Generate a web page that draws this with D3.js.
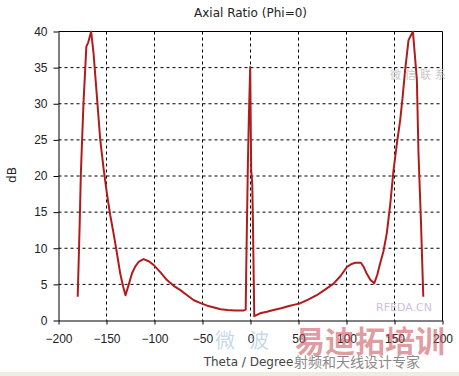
<!DOCTYPE html>
<html>
<head>
<meta charset="utf-8">
<script src="https://cdn.jsdelivr.net/npm/d3@7"></script>
<style>
  body { margin: 0; background: #fff; }
  svg { display: block; font-family: 'DejaVu Sans', sans-serif; }
  .axis text { font-size: 12px; fill: #222; }
  .grid line { stroke: #000; stroke-dasharray: 3,3; }
</style>
</head>
<body>
<div id="chart"></div>
<script>
// theta in degrees, axial ratio in dB (peaks clipped at 40)
const theta = [-180, -178, -176.7, -174, -171, -169, -166, -163.5, -160, -156.5, -153, -149.6, -146, -142.7, -139, -135.7, -132.5, -130.2, -127, -123.5, -120, -116.6, -111.4, -106, -101, -94, -87, -80, -73, -66, -59, -52, -45, -38, -31, -24, -16, -7, -5, -4.5, -2.7, -1.7, -0.3, 0.7, 1.8, 2.5, 3.9, 10, 17, 24, 32, 40, 46, 52, 60, 69, 78, 86.5, 94, 100.4, 105, 109, 115, 118, 121, 125, 128.9, 132, 135, 138.5, 142, 145.5, 149, 152.5, 155.9, 158.5, 161.1, 164.6, 169.2, 173.3, 175, 177.5, 180]
const axialRatio = [3.3, 13, 20.4, 30, 37.9, 38.5, 40, 37, 31, 25, 21, 17.6, 14.5, 12.1, 9.2, 6.5, 4.6, 3.5, 4.9, 6.5, 7.5, 8.1, 8.5, 8.2, 7.7, 6.7, 5.6, 4.8, 4.2, 3.5, 2.8, 2.4, 2.05, 1.8, 1.55, 1.45, 1.4, 1.4, 1.5, 6.6, 21.8, 28.2, 35.1, 20.8, 19, 13.9, 0.6, 1.0, 1.2, 1.45, 1.7, 2.0, 2.2, 2.4, 2.9, 3.5, 4.3, 5.1, 6.2, 7.4, 7.8, 8.0, 8.0, 7.4, 6.5, 5.6, 5.15, 6.3, 7.9, 9.6, 12.1, 16, 20.8, 24.5, 27.7, 31, 34.7, 38.8, 40, 33.3, 23.1, 13.9, 3.3]
const xTicks = [-200, -150, -100, -50, 0, 50, 100, 150, 200]
const yTicks = [0, 5, 10, 15, 20, 25, 30, 35, 40]

const data = theta.map((t, i) => ({ t: t, v: axialRatio[i] }))

const w = 459
const h = 376
const margin = { top: 31.5, right: 16.5, bottom: 55.5, left: 58.5 }
const width = w - margin.left - margin.right
const height = h - margin.top - margin.bottom

const svg = d3.select('#chart').append('svg')
  .attr('width', w)
  .attr('height', h)

svg.append('rect').attr('x', 0).attr('y', 372).attr('width', w).attr('height', 4).attr('fill', '#f1ece0')

const g = svg.append('g').attr('transform', 'translate(' + margin.left + ',' + margin.top + ')')

const x = d3.scaleLinear().domain([-200, 200]).range([0, width])
const y = d3.scaleLinear().domain([0, 40]).range([height, 0])

// dashed grid
g.append('g').attr('class', 'grid')
  .selectAll('line.v')
  .data(xTicks.slice(1, -1))
  .enter().append('line')
  .attr('x1', d => x(d)).attr('x2', d => x(d))
  .attr('y1', 0).attr('y2', height)
g.append('g').attr('class', 'grid')
  .selectAll('line.h')
  .data(yTicks.slice(1, -1))
  .enter().append('line')
  .attr('x1', 0).attr('x2', width)
  .attr('y1', d => y(d)).attr('y2', d => y(d))

// frame top + right
g.append('path')
  .attr('d', 'M0,0H' + width + 'V' + height)
  .attr('fill', 'none')
  .attr('stroke', '#000')

g.append('g')
  .attr('class', 'axis axis--y')
  .call(d3.axisLeft(y).tickValues(yTicks).tickSize(5).tickSizeOuter(0).tickPadding(6))

g.append('g')
  .attr('class', 'axis axis--x')
  .attr('transform', 'translate(0,' + height + ')')
  .call(d3.axisBottom(x).tickValues(xTicks).tickSize(4).tickSizeOuter(0).tickPadding(10))

g.selectAll('.axis path, .axis line').attr('stroke', '#000')

g.append('defs').append('clipPath').attr('id', 'clip')
  .append('rect').attr('x', 0).attr('y', -1).attr('width', width).attr('height', height + 1)

const line = d3.line()
  .x(d => x(d.t))
  .y(d => y(d.v))

g.append('path')
  .datum(data)
  .attr('clip-path', 'url(#clip)')
  .attr('d', line)
  .attr('fill', 'none')
  .attr('stroke', '#b01c1c')
  .attr('stroke-width', 2)
  .attr('stroke-linejoin', 'round')

svg.append('text')
  .attr('x', margin.left + width / 2)
  .attr('y', 17)
  .attr('text-anchor', 'middle')
  .attr('font-size', 12)
  .attr('fill', '#222')
  .text('Axial Ratio (Phi=0)')

svg.append('text')
  .attr('transform', 'translate(16,175) rotate(-90)')
  .attr('text-anchor', 'middle')
  .attr('font-size', 12)
  .attr('fill', '#222')
  .text('dB')

svg.append('text')
  .attr('x', margin.left + width / 2 - 2)
  .attr('y', 366)
  .attr('text-anchor', 'middle')
  .attr('font-size', 12)
  .attr('fill', '#444')
  .text('Theta / Degree')

// watermarks
svg.append('text')
  .attr('x', 295).attr('y', 352)
  .attr('font-size', 30).attr('font-weight', 'bold')
  .attr('font-family', 'Noto Sans CJK SC')
  .attr('fill', 'rgba(200,70,80,0.55)')
  .text('易迪拓培训')
svg.append('text')
  .attr('x', 294).attr('y', 367)
  .attr('font-size', 14)
  .attr('font-family', 'Noto Sans CJK SC')
  .attr('fill', '#8a8a8a')
  .text('射频和天线设计专家')
svg.append('text')
  .attr('x', 376).attr('y', 311)
  .attr('font-size', 11)
  .attr('fill', 'rgba(200,170,210,0.8)')
  .text('RFEDA.CN')
svg.append('text')
  .attr('x', 390).attr('y', 79)
  .attr('font-size', 11)
  .attr('letter-spacing', 4)
  .attr('font-family', 'Noto Sans CJK SC')
  .attr('fill', '#c8c8c8')
  .text('微信联系')
svg.append('text')
  .attr('x', 215).attr('y', 348)
  .attr('font-size', 20)
  .attr('letter-spacing', 14)
  .attr('font-family', 'Noto Sans CJK SC')
  .attr('fill', 'rgba(120,170,210,0.45)')
  .text('微波')
</script>
</body>
</html>
